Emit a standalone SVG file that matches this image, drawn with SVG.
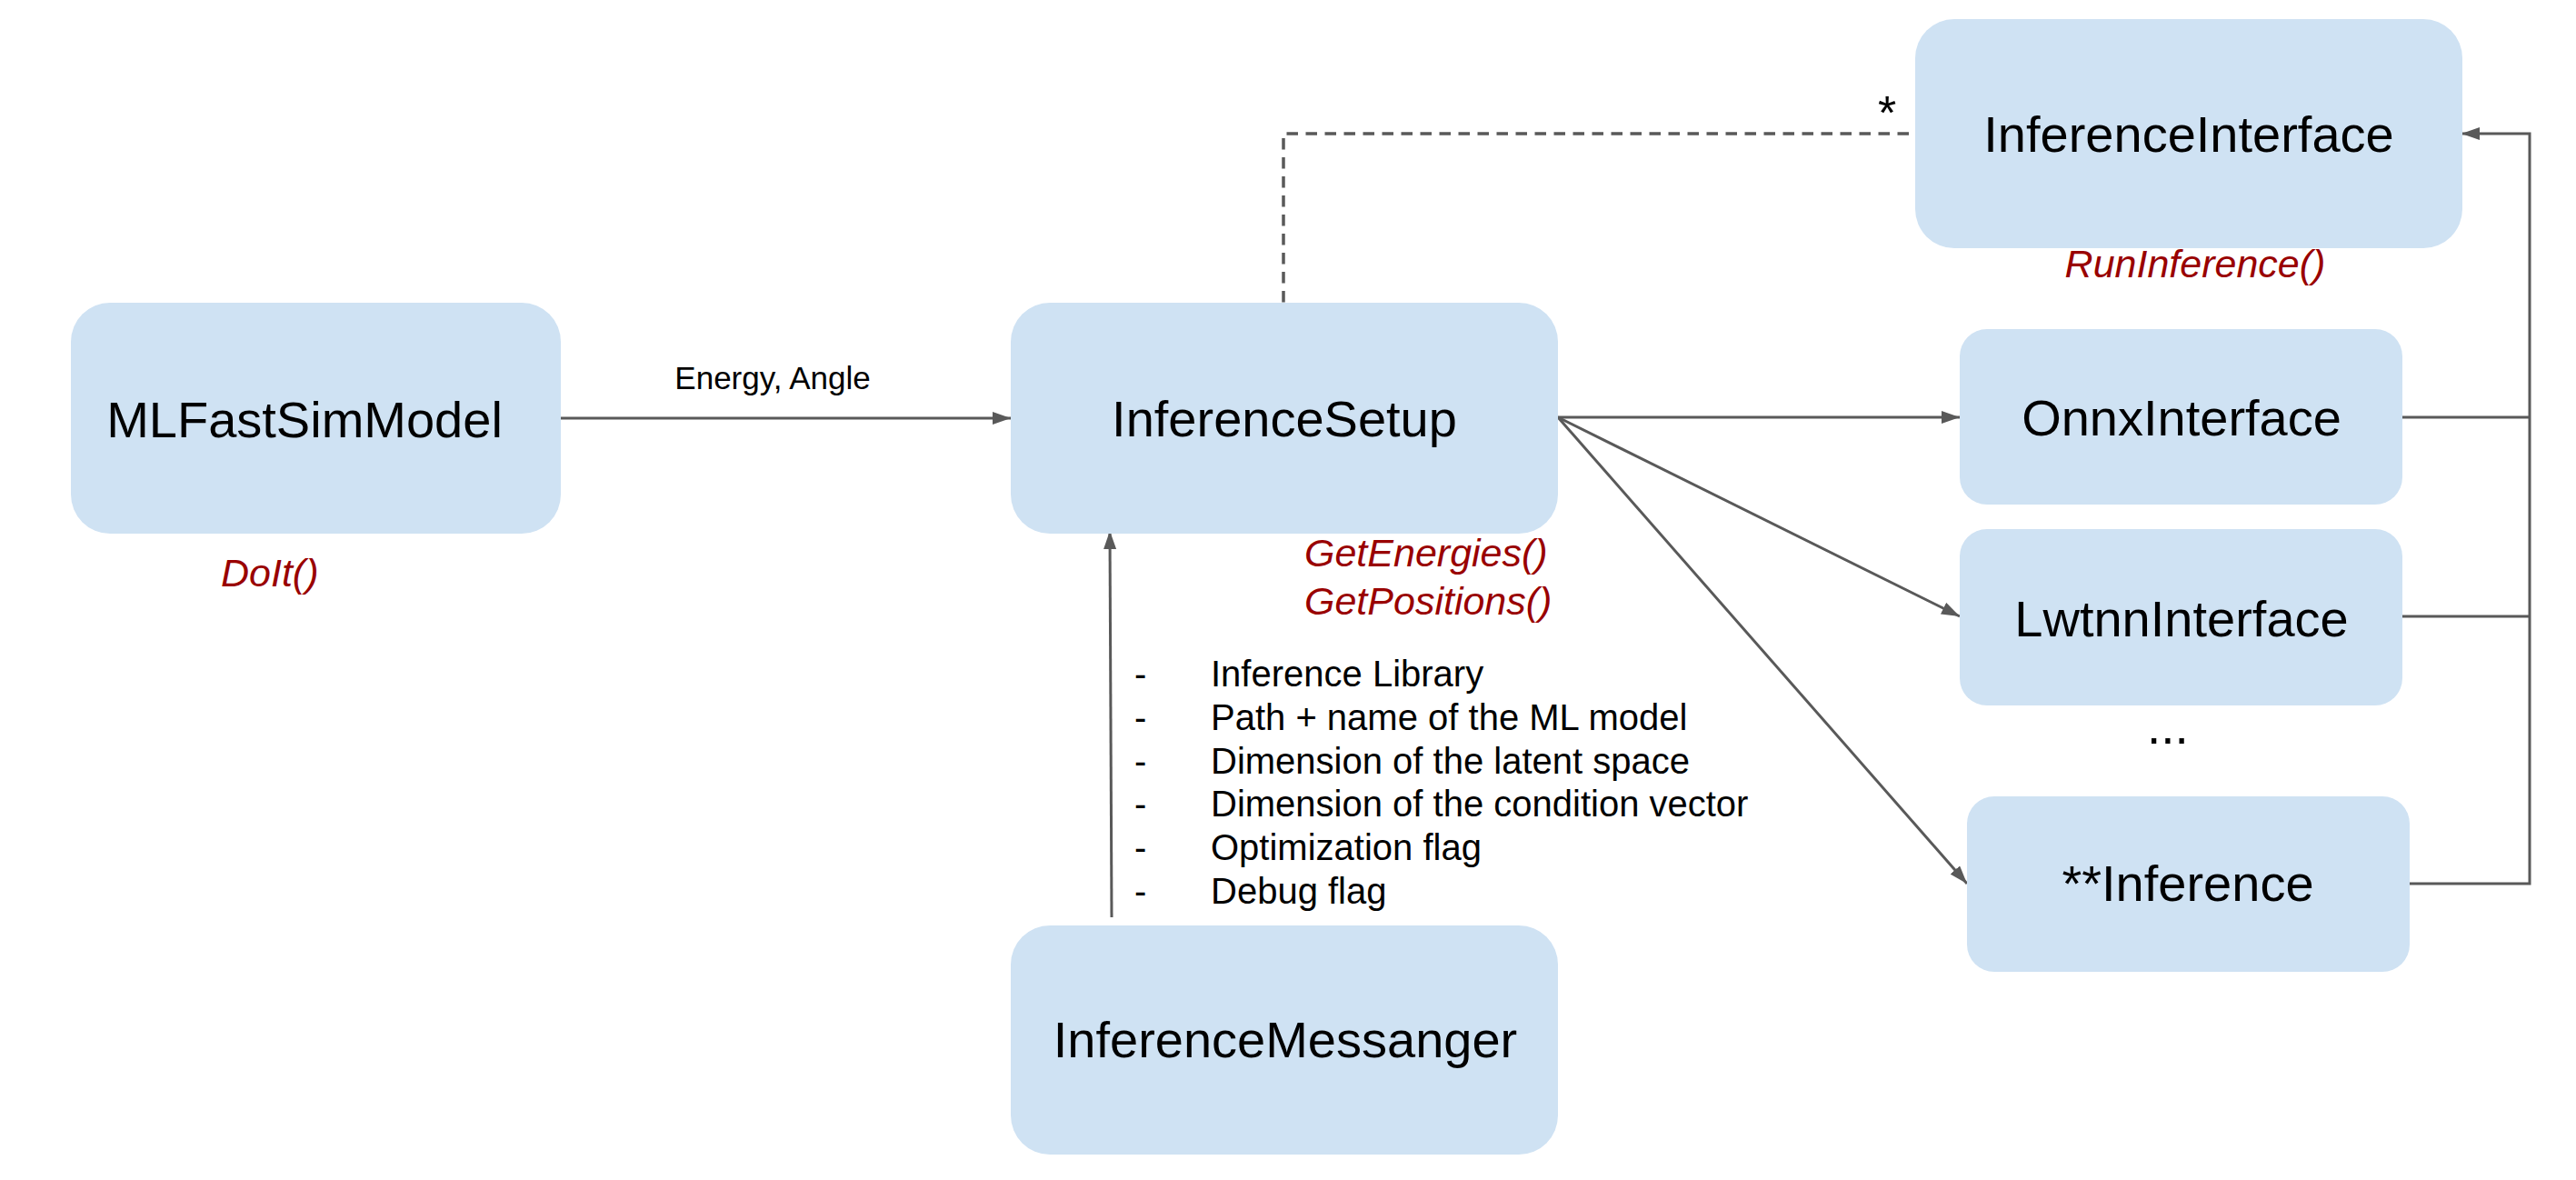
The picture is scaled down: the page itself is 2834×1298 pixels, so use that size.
<svg xmlns="http://www.w3.org/2000/svg" width="2834" height="1298" viewBox="0 0 2834 1298">
<style>
.box{fill:#cfe2f3;}
.lbl{font-family:"Liberation Sans",Arial,sans-serif;font-size:56px;fill:#000;text-anchor:middle;}
.fn{font-family:"Liberation Sans",Arial,sans-serif;font-size:43px;font-style:italic;fill:#990000;}
.txt{font-family:"Liberation Sans",Arial,sans-serif;font-size:40px;fill:#000;}
.con{fill:none;stroke:#595959;stroke-width:3;}
.dash{fill:none;stroke:#595959;stroke-width:3.5;stroke-dasharray:12.5 8.5;}
</style>
<defs>
<marker id="arr" markerUnits="userSpaceOnUse" markerWidth="22" markerHeight="16" refX="20" refY="7" orient="auto">
<path d="M0,0 L20,7 L0,14 z" fill="#595959"/>
</marker>
</defs>
<rect width="2834" height="1298" fill="#fff"/>
<g id="connectors">
<path class="con" d="M617,460 H1112" marker-end="url(#arr)"/>
<path class="dash" d="M2100,147 H1412 V333"/>
<path class="con" d="M1714,459 H2156" marker-end="url(#arr)"/>
<path class="con" d="M1714,459 L2156,678" marker-end="url(#arr)"/>
<path class="con" d="M1714,459 L2164,972" marker-end="url(#arr)"/>
<path class="con" d="M1223,1009 L1221,584" marker-end="url(#arr)"/>
<path class="con" d="M2643,459 H2783"/>
<path class="con" d="M2643,678 H2783"/>
<path class="con" d="M2651,972 H2783 V147 H2708" marker-end="url(#arr)"/>
<text class="txt" x="850" y="428" text-anchor="middle" style="font-size:35px">Energy, Angle</text>
<text class="txt" x="2076" y="142" text-anchor="middle" style="font-size:52px">*</text>
</g>
<g id="MLFastSimModel">
<rect class="box" x="78" y="333" width="539" height="254" rx="43" ry="43"/>
<text class="lbl" x="335" y="481">MLFastSimModel</text>
<text class="fn" x="243" y="645">DoIt()</text>
</g>
<g id="InferenceSetup">
<rect class="box" x="1112" y="333" width="602" height="254" rx="43" ry="43"/>
<text class="lbl" x="1413" y="480">InferenceSetup</text>
<text class="fn" x="1435" y="623">GetEnergies()</text>
<text class="fn" x="1435" y="676">GetPositions()</text>
</g>
<g id="InferenceInterface">
<rect class="box" x="2107" y="21" width="602" height="252" rx="43" ry="43"/>
<text class="lbl" x="2408" y="167">InferenceInterface</text>
<text class="fn" x="2415" y="305" text-anchor="middle">RunInference()</text>
</g>
<g id="OnnxInterface">
<rect class="box" x="2156" y="362" width="487" height="193" rx="30" ry="30"/>
<text class="lbl" x="2400" y="479">OnnxInterface</text>
</g>
<g id="LwtnnInterface">
<rect class="box" x="2156" y="582" width="487" height="194" rx="30" ry="30"/>
<text class="lbl" x="2400" y="700">LwtnnInterface</text>
</g>
<g id="Ellipsis">
<text class="txt" x="2362" y="818" style="font-size:55px">...</text>
</g>
<g id="Inference">
<rect class="box" x="2164" y="876" width="487" height="193" rx="30" ry="30"/>
<text class="lbl" x="2407" y="991">**Inference</text>
</g>
<g id="InferenceMessanger">
<rect class="box" x="1112" y="1018" width="602" height="252" rx="43" ry="43"/>
<text class="lbl" x="1414" y="1163">InferenceMessanger</text>
</g>
<g id="MessageList">
<text class="txt" x="1248" y="755">-</text><text class="txt" x="1332" y="755">Inference Library</text>
<text class="txt" x="1248" y="803">-</text><text class="txt" x="1332" y="803">Path + name of the ML model</text>
<text class="txt" x="1248" y="851">-</text><text class="txt" x="1332" y="851">Dimension of the latent space</text>
<text class="txt" x="1248" y="898">-</text><text class="txt" x="1332" y="898">Dimension of the condition vector</text>
<text class="txt" x="1248" y="946">-</text><text class="txt" x="1332" y="946">Optimization flag</text>
<text class="txt" x="1248" y="994">-</text><text class="txt" x="1332" y="994">Debug flag</text>
</g>
</svg>
